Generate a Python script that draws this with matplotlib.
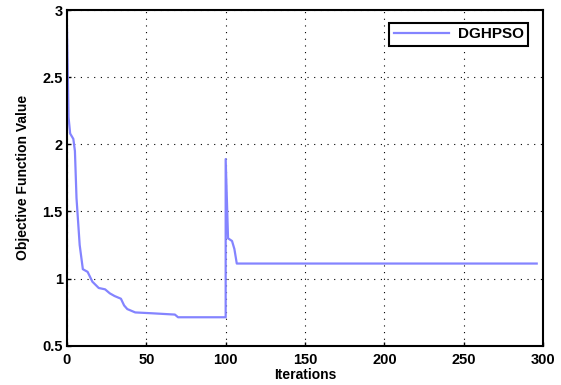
import matplotlib
matplotlib.use('Agg')
import matplotlib.pyplot as plt

# Convergence curve (iteration, objective value)
iters = [0, 1, 2, 4, 5, 6, 8, 10, 13, 16, 20, 24, 27, 30, 34, 36, 38, 43, 53, 68, 70,
         100, 100, 101.5, 104, 105.5, 107, 296]
values = [2.86, 2.2, 2.08, 2.04, 1.95, 1.6, 1.25, 1.07, 1.05, 0.977, 0.93, 0.92, 0.89,
          0.87, 0.85, 0.8, 0.773, 0.748, 0.742, 0.732, 0.712,
          0.712, 1.89, 1.30, 1.28, 1.22, 1.112, 1.112]

x_ticks = [0, 50, 100, 150, 200, 250, 300]
y_ticks = [0.5, 1, 1.5, 2, 2.5, 3]

plt.rcParams['font.family'] = ['Liberation Sans', 'DejaVu Sans']

fig = plt.figure(figsize=(5.61, 3.85), dpi=100)
ax = fig.add_axes([0.1194, 0.102, 0.8486, 0.872])

ax.plot(iters, values, color='#8484ff', lw=1.6, label='DGHPSO')

ax.set_xlim(0, 300)
ax.set_ylim(0.5, 3)
ax.set_xticks(x_ticks)
ax.set_yticks(y_ticks)
ax.set_xticklabels([str(t) for t in x_ticks], fontweight='bold')
ax.set_yticklabels(['0.5', '1', '1.5', '2', '2.5', '3'], fontweight='bold')
ax.tick_params(direction='in', length=3, width=1, labelsize=10.5)
ax.tick_params(axis='x', pad=5)
ax.tick_params(axis='y', pad=3)
ax.grid(True, linestyle=(0, (1, 5)), color='black', lw=0.8)
for s in ax.spines.values():
    s.set_linewidth(1.5)

ax.set_xlabel('Iterations', fontsize=10, fontweight='bold', labelpad=1)
ax.set_ylabel('Objective Function Value', fontsize=10, fontweight='bold', labelpad=9)

leg = ax.legend(loc='upper right', prop={'size': 11, 'weight': 'bold'},
                fancybox=False, framealpha=1, edgecolor='black',
                handlelength=3.6, handletextpad=0.6, borderpad=0.3,
                bbox_to_anchor=(0.985, 0.985))
leg.get_frame().set_linewidth(1.5)

fig.savefig('out.png', dpi=100)
